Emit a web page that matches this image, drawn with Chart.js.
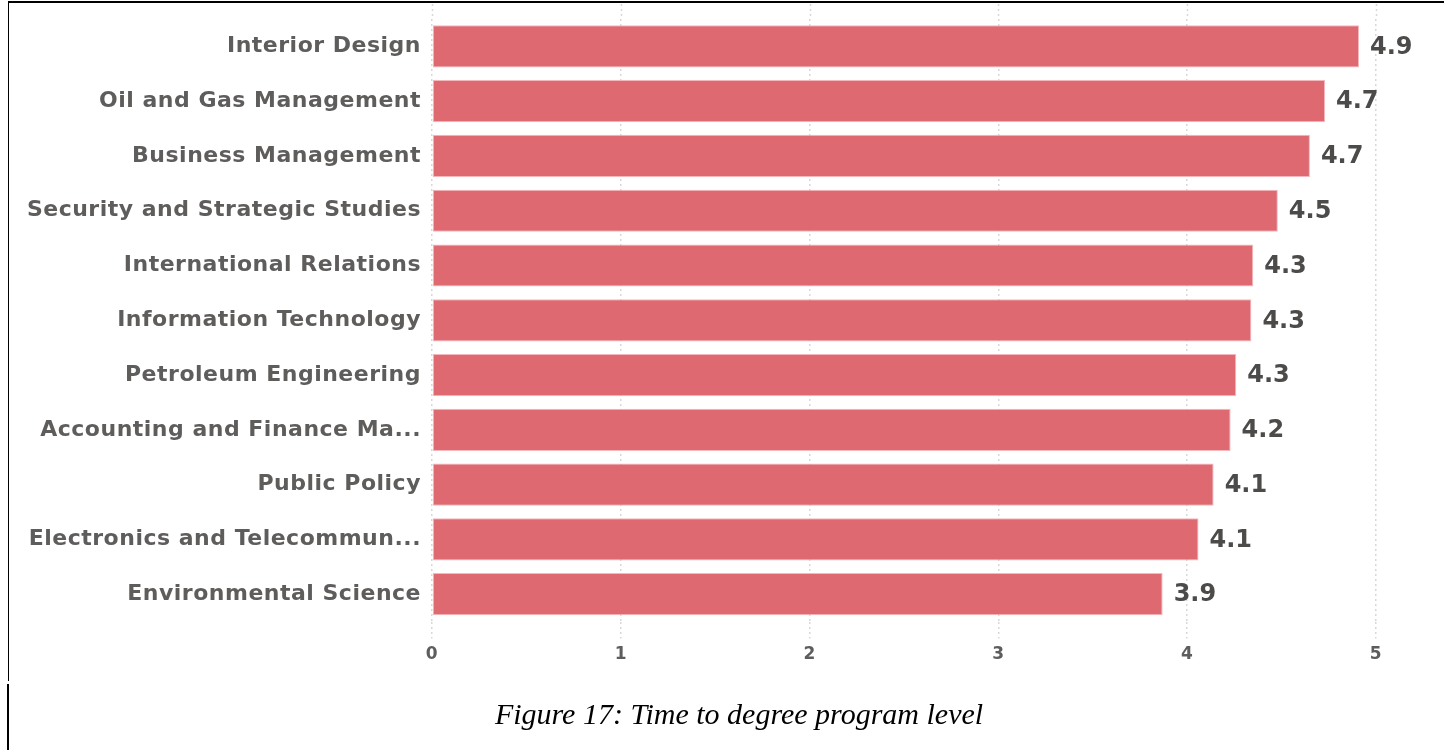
<!DOCTYPE html>
<html>
<head>
<meta charset="utf-8">
<script src="https://cdn.jsdelivr.net/npm/chart.js@4.4.1/dist/chart.umd.min.js"></script>
<style>
  html, body { margin: 0; padding: 0; background: #fff; }
  body { width: 1448px; height: 750px; position: relative; overflow: hidden; }
  #wrap { position: absolute; left: 0; top: 0; width: 1448px; height: 671px; }
  .line { position: absolute; background: #000; }
  #caption {
    position: absolute; left: 0; width: 1478px; top: 697px; text-align: center;
    font-family: "Liberation Serif", "DejaVu Serif", serif; font-style: italic;
    font-size: 30px; color: #000;
  }
</style>
</head>
<body>
<div id="wrap"><canvas id="chart"></canvas></div>
<div class="line" style="left:8px; top:1px; width:1436px; height:2px;"></div>
<div class="line" style="left:8px; top:1px; width:1px; height:680px;"></div>
<div class="line" style="left:7px; top:684px; width:2px; height:66px;"></div>
<div id="caption">Figure 17: Time to degree program level</div>
<script>
const programs = [
  'Interior Design',
  'Oil and Gas Management',
  'Business Management',
  'Security and Strategic Studies',
  'International Relations',
  'Information Technology',
  'Petroleum Engineering',
  'Accounting and Finance Ma...',
  'Public Policy',
  'Electronics and Telecommun...',
  'Environmental Science'
];
const years = [4.91, 4.73, 4.65, 4.48, 4.35, 4.34, 4.26, 4.23, 4.14, 4.06, 3.87];
const xTicks = [0, 1, 2, 3, 4, 5];

const fontFamily = '"DejaVu Sans", "Open Sans", sans-serif';
const gridColor = '#d8d8d8';

// slightly wider lettering, like the original
const spacing = {
  id: 'spacing',
  beforeDraw(chart) { chart.ctx.letterSpacing = '0.5px'; }
};

// dotted grid lines continue above the plot area
const gridTop = {
  id: 'gridTop',
  beforeDatasetsDraw(chart) {
    const ctx = chart.ctx;
    const x = chart.scales.x;
    ctx.save();
    ctx.strokeStyle = gridColor;
    ctx.lineWidth = 1.5;
    ctx.setLineDash([2, 3]);
    xTicks.forEach(v => {
      const px = Math.round(x.getPixelForValue(v)) + 0.5;
      ctx.beginPath();
      ctx.moveTo(px, 4);
      ctx.lineTo(px, chart.chartArea.top);
      ctx.stroke();
    });
    ctx.restore();
  }
};

// value labels at the end of each bar
const valueLabels = {
  id: 'valueLabels',
  afterDatasetsDraw(chart) {
    const ctx = chart.ctx;
    const meta = chart.getDatasetMeta(0);
    ctx.save();
    ctx.letterSpacing = '0px';
    ctx.font = 'bold 24px ' + fontFamily;
    ctx.fillStyle = '#4d4b4a';
    ctx.textBaseline = 'middle';
    meta.data.forEach((bar, i) => {
      ctx.fillText(years[i].toFixed(1), bar.x + 11, bar.y + 1);
    });
    ctx.restore();
  }
};

new Chart(document.getElementById('chart'), {
  type: 'bar',
  data: {
    labels: programs,
    datasets: [{
      data: years,
      backgroundColor: '#df6971',
      borderColor: '#f4b8bc',
      borderWidth: 1,
      borderSkipped: false,
      barPercentage: 0.77,
      categoryPercentage: 1.0
    }]
  },
  options: {
    indexAxis: 'y',
    responsive: true,
    maintainAspectRatio: false,
    animation: false,
    layout: { padding: { top: 19, right: 72, bottom: 0, left: 0 } },
    plugins: {
      legend: { display: false },
      tooltip: { enabled: false }
    },
    scales: {
      x: {
        min: 0,
        max: 5,
        afterBuildTicks: axis => { axis.ticks = xTicks.map(v => ({ value: v })); },
        grid: { color: gridColor, lineWidth: 1.5, drawTicks: true, tickLength: 17, tickBorderDash: [2, 3] },
        border: { display: false, dash: [2, 3] },
        ticks: { color: '#5f5d5c', font: { family: fontFamily, size: 17, weight: 'bold' }, padding: 6 }
      },
      y: {
        afterFit: axis => {
          axis.width = 432;
          axis.paddingTop = 0;
          axis.paddingBottom = 0;
        },
        grid: { display: false, drawTicks: false },
        border: { display: false },
        ticks: { color: '#5f5d5c', font: { family: fontFamily, size: 22, weight: 'bold' }, padding: 11, autoSkip: false }
      }
    }
  },
  plugins: [spacing, gridTop, valueLabels]
});
</script>
</body>
</html>
